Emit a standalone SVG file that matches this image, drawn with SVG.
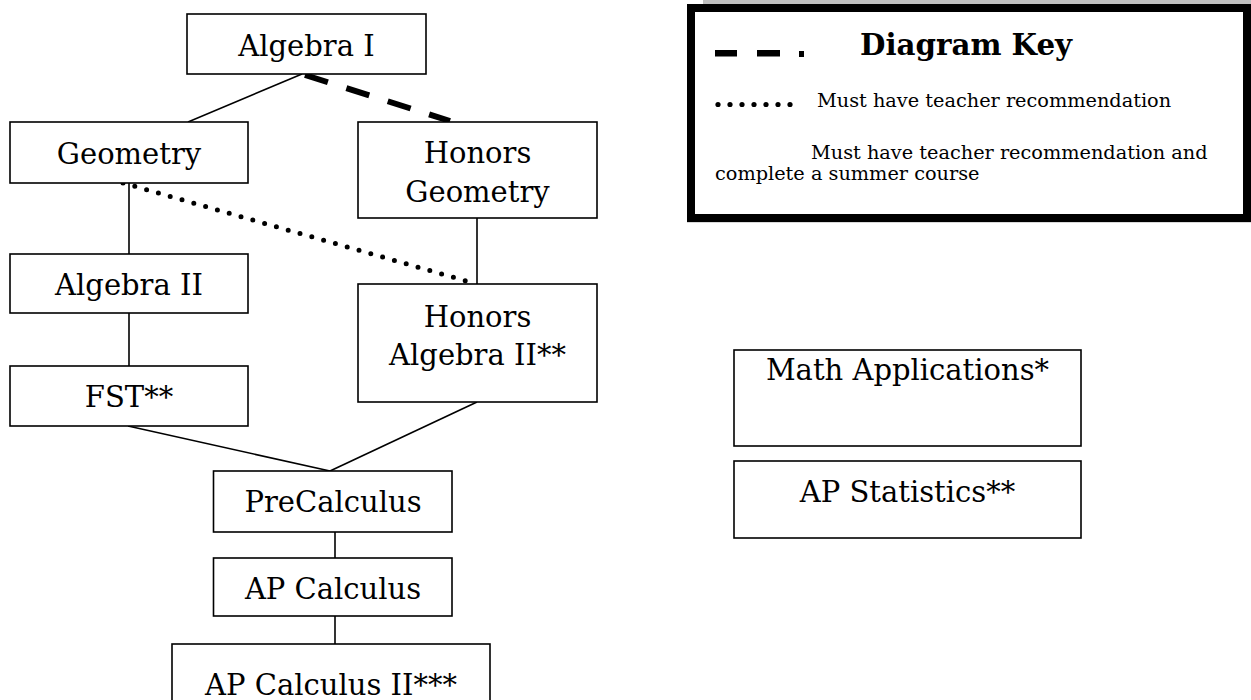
<svg xmlns="http://www.w3.org/2000/svg" width="1251" height="700" viewBox="0 0 1251 700">
<style>
.box{fill:#fff;stroke:#000;stroke-width:1.6}
.lbl{font-family:"DejaVu Serif","Liberation Serif",serif;font-size:29px;fill:#000;text-anchor:middle}
.key{font-family:"DejaVu Serif","Liberation Serif",serif;font-size:19.3px;fill:#000}
.ln{stroke:#000;stroke-width:1.6;fill:none}
</style>
<rect width="1251" height="700" fill="#fff"/>
<g id="connectors">
<line class="ln" x1="302" y1="74" x2="188" y2="122"/>
<line x1="305" y1="75" x2="450" y2="121" stroke="#000" stroke-width="6" stroke-dasharray="24 19.4"/>
<line x1="123" y1="183" x2="477" y2="284" stroke="#000" stroke-width="5" stroke-linecap="round" stroke-dasharray="0 12.271"/>
<line class="ln" x1="129" y1="183" x2="129" y2="254"/>
<line class="ln" x1="477" y1="218" x2="477" y2="284"/>
<line class="ln" x1="129" y1="313" x2="129" y2="366"/>
<line class="ln" x1="128" y1="426" x2="330" y2="471"/>
<line class="ln" x1="477" y1="402" x2="330" y2="471"/>
<line class="ln" x1="335" y1="532" x2="335" y2="558"/>
<line class="ln" x1="335" y1="616" x2="335" y2="644"/>
</g>
<g id="algebra1"><rect class="box" x="187" y="14" width="239" height="60"/><text class="lbl" x="306.5" y="56">Algebra I</text></g>
<g id="geometry"><rect class="box" x="10" y="122" width="238" height="61"/><text class="lbl" x="129" y="164">Geometry</text></g>
<g id="honors-geometry"><rect class="box" x="358" y="122" width="239" height="96"/><text class="lbl" x="477.5" y="163">Honors</text><text class="lbl" x="477.5" y="202">Geometry</text></g>
<g id="algebra2"><rect class="box" x="10" y="254" width="238" height="59"/><text class="lbl" x="129" y="295">Algebra II</text></g>
<g id="honors-algebra2"><rect class="box" x="358" y="284" width="239" height="118"/><text class="lbl" x="477.5" y="327">Honors</text><text class="lbl" x="477.5" y="365">Algebra II**</text></g>
<g id="fst"><rect class="box" x="10" y="366" width="238" height="60"/><text class="lbl" x="129" y="407">FST**</text></g>
<g id="precalculus"><rect class="box" x="213.5" y="471" width="238.5" height="61"/><text class="lbl" x="333" y="512">PreCalculus</text></g>
<g id="ap-calculus"><rect class="box" x="213.5" y="558" width="238.5" height="58"/><text class="lbl" x="333" y="599">AP Calculus</text></g>
<g id="ap-calculus2"><rect class="box" x="172" y="644" width="318" height="80"/><text class="lbl" x="331" y="695">AP Calculus II***</text></g>
<g id="math-applications"><rect class="box" x="734" y="350" width="347" height="96"/><text class="lbl" x="907.5" y="380">Math Applications*</text></g>
<g id="ap-statistics"><rect class="box" x="734" y="461" width="347" height="77"/><text class="lbl" x="907.5" y="502">AP Statistics**</text></g>
<g id="key">
<rect x="703" y="0" width="548" height="4" fill="#bfbfbf"/>
<line x1="687" y1="222.5" x2="1251" y2="222.5" stroke="#d8d8d8" stroke-width="1"/>
<rect x="691" y="8" width="556" height="210" fill="#fff" stroke="#000" stroke-width="8"/>
<rect x="715" y="50" width="22" height="6.5" fill="#000"/>
<rect x="757" y="50" width="23" height="6.5" fill="#000"/>
<rect x="799" y="51" width="5" height="6" fill="#000"/>
<text x="860" y="55" font-family="'DejaVu Serif','Liberation Serif',serif" font-size="29.3" font-weight="bold" fill="#000">Diagram Key</text>
<g fill="#000"><circle cx="718" cy="104.5" r="2.6"/><circle cx="730" cy="104.5" r="2.6"/><circle cx="742" cy="104.5" r="2.6"/><circle cx="754" cy="104.5" r="2.6"/><circle cx="766" cy="104.5" r="2.6"/><circle cx="778" cy="104.5" r="2.6"/><circle cx="790" cy="104.5" r="2.6"/></g>
<text class="key" x="817" y="107">Must have teacher recommendation</text>
<text class="key" x="811" y="159">Must have teacher recommendation and</text>
<text class="key" x="715" y="180">complete a summer course</text>
</g>
</svg>
